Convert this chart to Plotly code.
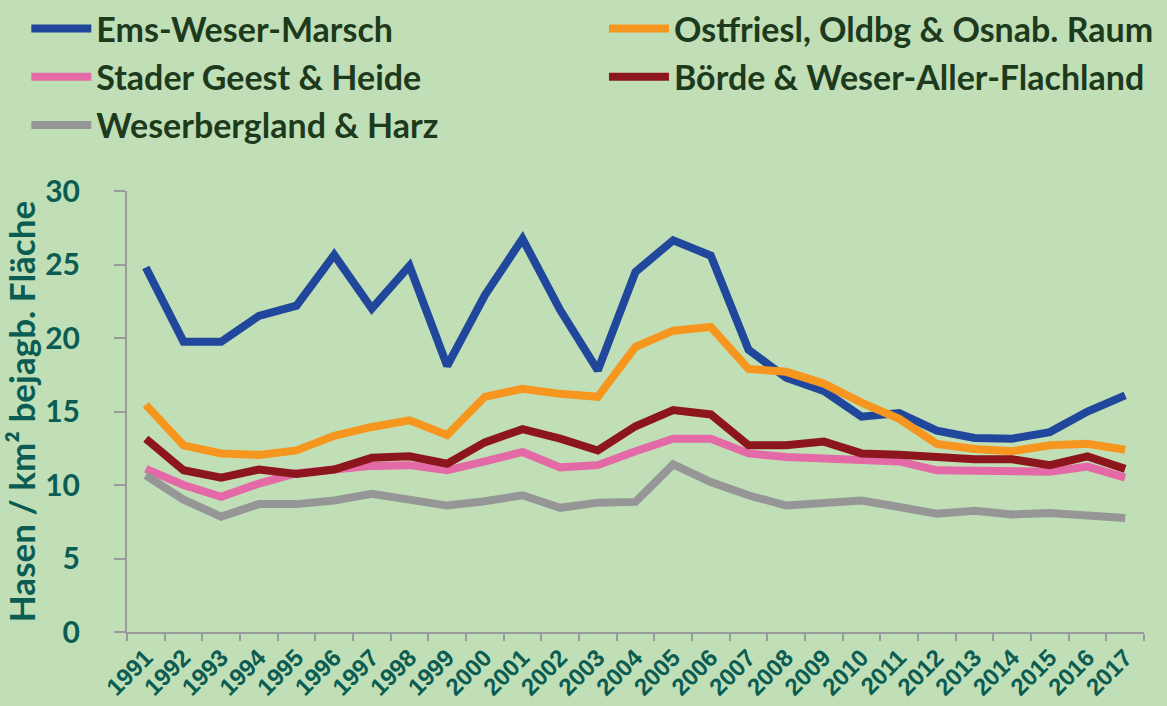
import plotly.graph_objects as go

years = [str(y) for y in range(1991, 2018)]

ems_weser_marsch = [24.8, 19.75, 19.75, 21.5, 22.2, 25.65, 22.0, 24.9, 18.1, 22.9, 26.75, 21.9, 17.8,
                    24.5, 26.65, 25.6, 19.2, 17.3, 16.4, 14.65, 14.9, 13.7, 13.2, 13.15, 13.6, 15.0, 16.1]
ostfriesl = [15.45, 12.7, 12.15, 12.05, 12.35, 13.35, 13.95, 14.4, 13.4, 16.0, 16.55, 16.2, 16.0,
             19.4, 20.5, 20.75, 17.9, 17.7, 16.9, 15.6, 14.5, 12.8, 12.45, 12.3, 12.7, 12.8, 12.4]
stader = [11.1, 10.0, 9.2, 10.1, 10.8, 11.1, 11.3, 11.35, 11.0, 11.6, 12.25, 11.2, 11.35,
          12.3, 13.15, 13.15, 12.15, 11.9, 11.8, 11.6, 11.6, 11.0, 10.95, 10.9, 10.9, 11.25, 10.5]
boerde = [13.15, 11.0, 10.5, 11.05, 10.75, 11.05, 11.85, 11.95, 11.45, 12.9, 13.8, 13.15, 12.35,
          14.0, 15.1, 14.8, 12.7, 12.7, 12.95, 12.15, 12.05, 11.9, 11.75, 11.75, 11.35, 11.95, 11.1]
weserbergland = [10.65, 9.0, 7.85, 8.7, 8.7, 8.95, 9.4, 8.95, 8.6, 8.9, 9.3, 8.45, 8.8,
                 8.85, 11.4, 10.2, 9.3, 8.6, 8.8, 8.95, 8.5, 8.05, 8.25, 8.0, 8.1, 7.95, 7.75]

series = [
    ("Ems-Weser-Marsch", ems_weser_marsch, "#21479c", "legend"),
    ("Ostfriesl, Oldbg & Osnab. Raum", ostfriesl, "#f7961f", "legend2"),
    ("Stader Geest & Heide", stader, "#e36aa6", "legend"),
    ("Börde & Weser-Aller-Flachland", boerde, "#8c161c", "legend2"),
    ("Weserbergland & Harz", weserbergland, "#969696", "legend"),
]

BG = "#c0dfb7"
TEAL = "#0b5c52"
LEGTXT = "#1e3a1c"

fig = go.Figure()
for name, vals, color, leg in series:
    fig.add_trace(go.Scatter(
        x=years, y=vals, name=name, mode="lines",
        line=dict(color=color, width=8),
        legend=leg, legendgroup=name,
    ))

legfont = dict(family="Lato", size=34, color=LEGTXT, weight="bold")
fig.update_layout(
    width=1167, height=706,
    paper_bgcolor=BG, plot_bgcolor=BG,
    margin=dict(l=127, r=23, t=191, b=74, autoexpand=False),
    legend=dict(x=-0.099, xanchor="left", y=1.030, yref="container", yanchor="top",
                orientation="v", font=legfont, bgcolor="rgba(0,0,0,0)", tracegroupgap=1,
                itemwidth=60),
    legend2=dict(x=0.469, xanchor="left", y=1.030, yref="container", yanchor="top",
                 orientation="v", font=legfont, bgcolor="rgba(0,0,0,0)", tracegroupgap=1,
                 itemwidth=60),
    xaxis=dict(
        type="category", range=[-0.5, len(years) - 0.5], automargin=False,
        showgrid=False, zeroline=False,
        showline=True, linecolor="#9a9a9a", linewidth=2,
        ticks="outside", tickson="boundaries", ticklen=7, tickcolor="#9a9a9a", tickwidth=2,
        tickangle=-45,
        tickfont=dict(family="Liberation Sans", size=24, color=TEAL, weight="bold"),
    ),
    yaxis=dict(
        range=[0, 30], dtick=5, automargin=False, showgrid=False, zeroline=False,
        showline=True, linecolor="#9a9a9a", linewidth=2,
        ticks="outside", ticklen=11, tickcolor="#9a9a9a", tickwidth=2,
        ticklabelstandoff=28,
        tickfont=dict(family="Lato", size=30, color=TEAL, weight="bold"),
        title=dict(text="Hasen / km² bejagb. Fläche", standoff=8,
                   font=dict(family="Lato", size=35, color=TEAL, weight="bold")),
    ),
)

fig.write_html("out.html", config={"displayModeBar": False},
               post_script="document.body.style.margin='0';")
